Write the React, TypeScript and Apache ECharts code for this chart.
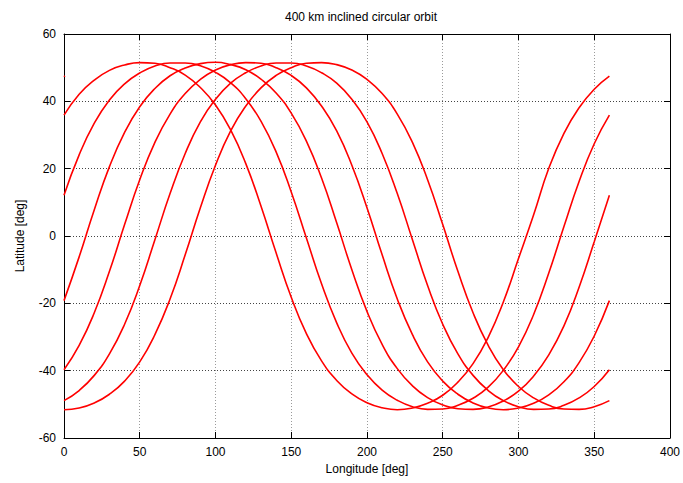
import React, { useEffect, useRef } from "react";
import * as echarts from "echarts";

const TITLE = "400 km inclined circular orbit";
const X_NAME = "Longitude [deg]";
const Y_NAME = "Latitude [deg]";

// longitudes sampled every 10 deg, 0..360
const longitudes = [
  0, 10, 20, 30, 40, 50, 60, 70, 80, 90, 100, 110, 120, 130, 140, 150, 160, 170, 180,
  190, 200, 210, 220, 230, 240, 250, 260, 270, 280, 290, 300, 310, 320, 330, 340, 350, 360,
];

// latitude of each successive ground-track pass
const pass1 = [
  35.9, 42.1, 46.3, 49.2, 50.8, 51.5, 51.3, 50.0, 47.8, 44.1, 38.9, 31.5, 21.5, 8.9, -5.0, -18.2,
  -29.0, -37.1, -42.9, -46.9, -49.5, -51.0, -51.6, -51.1, -49.7, -47.3, -43.4, -37.9, -30.1, -19.6,
  -6.7, 6.3, 20.1, 30.5, 38.1, 43.6, 47.5,
];
const pass2 = [
  12.1, 24.1, 33.5, 40.4, 45.2, 48.4, 50.5, 51.4, 51.4, 50.6, 48.6, 45.5, 40.8, 34.1, 25.0, 13.1,
  -0.6, -14.2, -25.8, -34.8, -41.2, -45.8, -48.8, -50.7, -51.5, -51.4, -50.3, -48.2, -44.9, -39.9,
  -32.9, -23.3, -11.0, 2.8, 16.2, 27.4, 35.9,
];
const pass3 = [
  -19.2, -6.2, 7.8, 20.6, 30.8, 38.4, 43.8, 47.6, 49.9, 51.2, 51.6, 50.9, 49.4, 46.6, 42.5, 36.5,
  28.2, 17.2, 3.9, -10.0, -22.4, -32.2, -39.4, -44.5, -48.0, -50.2, -51.3, -51.5, -50.8, -49.0,
  -46.1, -41.6, -35.3, -26.7, -15.2, -1.7, 12.1,
];
const pass4 = [
  -39.7, -32.5, -22.8, -10.5, 3.4, 16.7, 27.8, 36.2, 42.3, 46.5, 49.3, 50.9, 51.5, 51.3, 50.0, 47.7,
  44.0, 38.6, 31.2, 21.0, 8.4, -5.6, -18.7, -29.3, -37.4, -43.1, -47.0, -49.6, -51.1, -51.6, -51.1,
  -49.7, -47.2, -43.3, -37.6, -29.7, -19.2,
];
const pass5 = [
  -48.9, -45.9, -41.4, -35.0, -26.2, -14.7, -1.1, 12.6, 24.5, 33.9, 40.6, 45.4, 48.5, 50.5, 51.4,
  51.4, 50.5, 48.5, 45.4, 40.6, 33.9, 24.5, 12.6, -1.1, -14.7, -26.2, -35.0, -41.4, -45.9, -48.9,
  -50.7, -51.5, -51.4, -50.3, -48.1, -44.7, -39.7,
];
const pass6 = [
  -51.6, -51.1, -49.6, -47.0, -43.1, -37.4, -29.3, -18.7, -5.6, 8.4, 21.0, 31.2, 38.6, 44.0, 47.7,
  50.0, 51.3, 51.5, 50.9, 49.3, 46.5, 42.3, 36.2, 27.8, 16.7, 3.4, -10.5, -22.8, -32.5, -39.7,
  -44.7, -48.1, -50.3, -51.4, -51.5, -50.7, -48.9,
];
const passes = [pass1, pass2, pass3, pass4, pass5, pass6];

// tiny wrap-around stub visible at the left edge
const stubLon = [0, 0.6];
const stubLat = [47.3, 47.6];

const FONT = "'Liberation Sans', Arial, Helvetica, sans-serif";

export default function App() {
  const ref = useRef<HTMLDivElement>(null);

  useEffect(() => {
    if (!ref.current) return;
    const chart = echarts.init(ref.current, undefined, { renderer: "svg" });

    const lineStyle = { color: "#ff0000", width: 1.6 };
    const series: any[] = passes.map((p, i) => ({
      type: "line",
      name: "pass" + (i + 1),
      data: longitudes.map((lon, j) => [lon, p[j]]),
      showSymbol: false,
      smooth: 0.5,
      lineStyle,
      itemStyle: { color: "#ff0000" },
      silent: true,
      z: 3,
    }));
    series.push({
      type: "line",
      name: "stub",
      data: stubLon.map((lon, j) => [lon, stubLat[j]]),
      showSymbol: false,
      lineStyle,
      silent: true,
      z: 3,
    });

    const labelStyle = { color: "#000", fontSize: 12, fontFamily: FONT };

    chart.setOption({
      animation: false,
      backgroundColor: "#ffffff",
      title: {
        text: TITLE,
        left: 356,
        top: 6,
        textAlign: "center",
        textStyle: { fontSize: 12, fontWeight: "normal", color: "#000", fontFamily: FONT },
      },
      grid: { left: 64, right: 11, top: 34, bottom: 45, containLabel: false },
      xAxis: [
        {
          type: "value",
          position: "bottom",
          min: 0,
          max: 400,
          interval: 50,
          name: X_NAME,
          nameLocation: "middle",
          nameGap: 25,
          nameTextStyle: { color: "#000", fontSize: 12, fontFamily: FONT },
          axisLine: { show: true, onZero: false, lineStyle: { color: "#000", width: 1 } },
          axisTick: { show: true, inside: true, length: 6, lineStyle: { color: "#000" } },
          axisLabel: { ...labelStyle, margin: 8 },
          splitLine: { show: true, lineStyle: { color: "#9a9a9a", width: 1, type: [1, 2] } },
        },
        {
          type: "value",
          position: "top",
          min: 0,
          max: 400,
          interval: 50,
          axisLine: { show: true, onZero: false, lineStyle: { color: "#000", width: 1 } },
          axisTick: { show: true, inside: true, length: 6, lineStyle: { color: "#000" } },
          axisLabel: { show: false },
          splitLine: { show: false },
        },
      ],
      yAxis: [
        {
          type: "value",
          position: "left",
          min: -60,
          max: 60,
          interval: 20,
          name: Y_NAME,
          nameLocation: "middle",
          nameGap: 38,
          nameTextStyle: { color: "#000", fontSize: 12, fontFamily: FONT },
          axisLine: { show: true, onZero: false, lineStyle: { color: "#000", width: 1 } },
          axisTick: { show: true, inside: true, length: 6, lineStyle: { color: "#000" } },
          axisLabel: { ...labelStyle, margin: 8 },
          splitLine: { show: true, lineStyle: { color: "#444", width: 1, type: [1, 2] } },
        },
        {
          type: "value",
          position: "right",
          min: -60,
          max: 60,
          interval: 20,
          axisLine: { show: true, onZero: false, lineStyle: { color: "#000", width: 1 } },
          axisTick: { show: true, inside: true, length: 6, lineStyle: { color: "#000" } },
          axisLabel: { show: false },
          splitLine: { show: false },
        },
      ],
      series,
    });

    return () => chart.dispose();
  }, []);

  return (
    <div
      ref={ref}
      style={{ position: "fixed", left: 0, top: 0, width: 683, height: 483, background: "#fff" }}
    />
  );
}
